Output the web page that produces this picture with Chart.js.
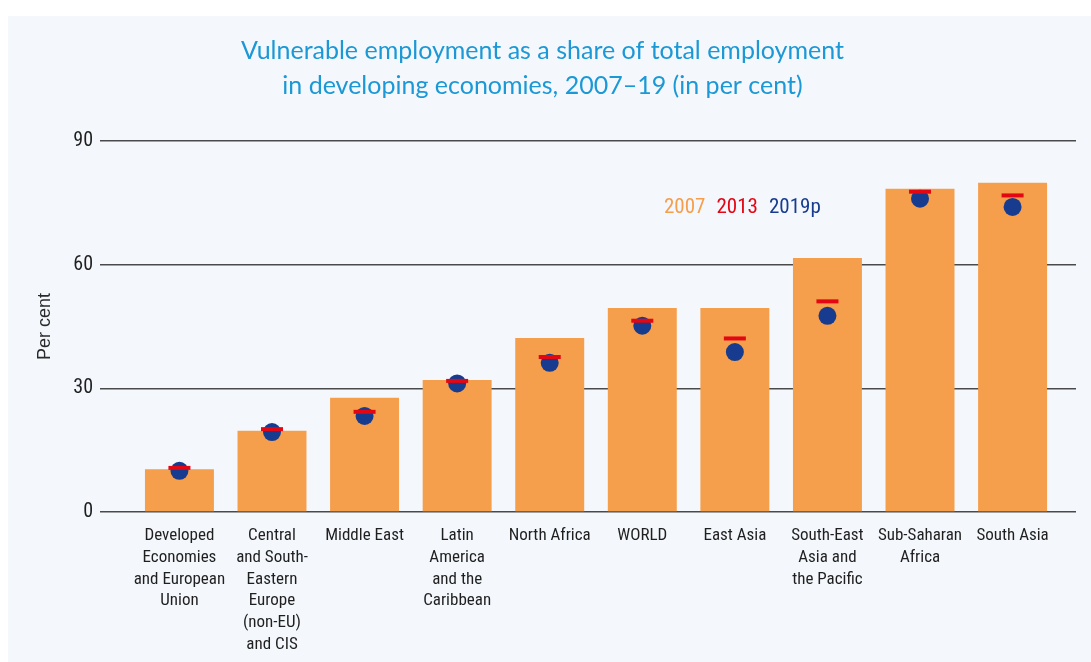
<!DOCTYPE html>
<html>
<head>
<meta charset="utf-8">
<title>Vulnerable employment</title>
<script src="https://cdn.jsdelivr.net/npm/chart.js@4/dist/chart.umd.min.js"></script>
<style>
    html, body {
        margin: 0;
        padding: 0;
        background: #ffffff;
    }

    #panel {
        position: absolute;
        left: 8px;
        top: 16px;
        width: 1083px;
        height: 646px;
        background: #f4f8fd;
    }
</style>
</head>
<body>

<div id="panel">
    <canvas id="chart"></canvas>
</div>

<script>
/* =========================
   데이터
========================= */
const regions = [
    ["Developed", "Economies", "and European", "Union"],
    ["Central", "and South-", "Eastern", "Europe", "(non-EU)", "and CIS"],
    ["Middle East"],
    ["Latin", "America", "and the", "Caribbean"],
    ["North Africa"],
    ["WORLD"],
    ["East Asia"],
    ["South-East", "Asia and", "the Pacific"],
    ["Sub-Saharan", "Africa"],
    ["South Asia"]
];

const share2007 = [10.4, 19.7, 27.7, 32.0, 42.2, 49.5, 49.5, 61.6, 78.4, 79.9];
const share2013 = [10.7, 20.1, 24.3, 31.8, 37.6, 46.4, 42.1, 51.1, 77.7, 76.8];
const share2019 = [10.0, 19.4, 23.3, 31.2, 36.2, 45.2, 38.8, 47.6, 76.0, 74.0];

const yTicks = [0, 30, 60, 90];

const seriesLabels = ["2007", "2013", "2019p"];

const ORANGE = "#f59e4b";
const RED = "#e30613";
const BLUE = "#173c8f";

const NARROW = '"Liberation Sans Narrow", "Roboto Condensed", "DejaVu Sans Condensed", sans-serif';

// 지역 인덱스를 x 값으로 사용
function toPoints(values) {
    return values.map((v, i) => ({ x: i, y: v }));
}

/* =========================
   범례 (색 글자만)
========================= */
const textLegend = {

    id: "textLegend",

    afterDraw(chart) {

        const ctx = chart.ctx;
        const area = chart.chartArea;

        ctx.save();
        ctx.font = "21px " + NARROW;
        ctx.textBaseline = "middle";
        ctx.textAlign = "left";

        let x = area.left + 564;
        const y = area.top + 67;

        // 2007, 2013, 2019p 순서
        seriesLabels.forEach(label => {

            const ds = chart.data.datasets.find(d => d.label === label);

            ctx.fillStyle = ds.legendColor;
            ctx.fillText(label, x, y);

            x += ctx.measureText(label).width + 11;
        });

        ctx.restore();
    }
};

/* =========================
   차트
========================= */
const ctx = document.getElementById("chart");

const chart = new Chart(ctx, {

    data: {

        datasets: [
            {
                type: "line",
                label: seriesLabels[1],
                data: toPoints(share2013),
                legendColor: RED,
                showLine: false,
                pointStyle: "line",
                pointRadius: 11,
                pointBorderWidth: 4,
                pointBorderColor: RED,
                pointBackgroundColor: RED,
                order: 1
            },
            {
                type: "line",
                label: seriesLabels[2],
                data: toPoints(share2019),
                legendColor: BLUE,
                showLine: false,
                pointStyle: "circle",
                pointRadius: 9,
                pointBorderWidth: 0,
                pointBackgroundColor: BLUE,
                order: 2
            },
            {
                type: "bar",
                label: seriesLabels[0],
                data: toPoints(share2007),
                legendColor: ORANGE,
                backgroundColor: ORANGE,
                borderWidth: 0,
                categoryPercentage: 1,
                barPercentage: 0.745,
                order: 3
            }
        ]
    },

    options: {

        responsive: true,
        maintainAspectRatio: false,
        animation: false,

        layout: {
            padding: { left: 0, right: 14, top: 0, bottom: 0 }
        },

        plugins: {

            legend: { display: false },
            tooltip: { enabled: false },

            title: {
                display: true,
                text: [
                    "Vulnerable employment as a share of total employment",
                    "in developing economies, 2007\u201319 (in per cent)"
                ],
                color: "#1b98d5",
                font: {
                    family: "Lato, sans-serif",
                    size: 25,
                    weight: "normal",
                    lineHeight: 1.4
                },
                padding: { top: 17, bottom: 38 }
            }
        },

        scales: {

            x: {
                type: "linear",
                offset: false,
                min: -0.858,
                max: 9.685,
                grid: { display: false, drawTicks: false },
                border: { display: false },
                afterBuildTicks: (scale) => {
                    scale.ticks = regions.map((_, i) => ({ value: i }));
                },
                afterFit: (scale) => {
                    scale.height = 150;
                },
                ticks: {
                    autoSkip: false,
                    maxRotation: 0,
                    minRotation: 0,
                    padding: 13,
                    color: "#1f1f1f",
                    font: {
                        family: NARROW,
                        size: 17,
                        lineHeight: 1.28
                    },
                    callback: (value) => regions[value]
                }
            },

            y: {
                min: 0,
                max: 90,
                afterBuildTicks: (scale) => {
                    scale.ticks = yTicks.map(v => ({ value: v }));
                },
                afterFit: (scale) => {
                    scale.width = 92;
                },
                grid: {
                    color: "#4a4a4a",
                    lineWidth: 1.4,
                    drawTicks: false
                },
                border: { display: false },
                ticks: {
                    padding: 7,
                    color: "#1f1f1f",
                    font: {
                        family: NARROW,
                        size: 20
                    }
                },
                title: {
                    display: true,
                    text: "Per cent",
                    color: "#2a2a2a",
                    font: {
                        family: '"Liberation Sans", Arial, sans-serif',
                        size: 18
                    },
                    padding: { top: 26, bottom: 0 }
                }
            }
        }
    },

    plugins: [textLegend]
});
</script>
</body>
</html>
